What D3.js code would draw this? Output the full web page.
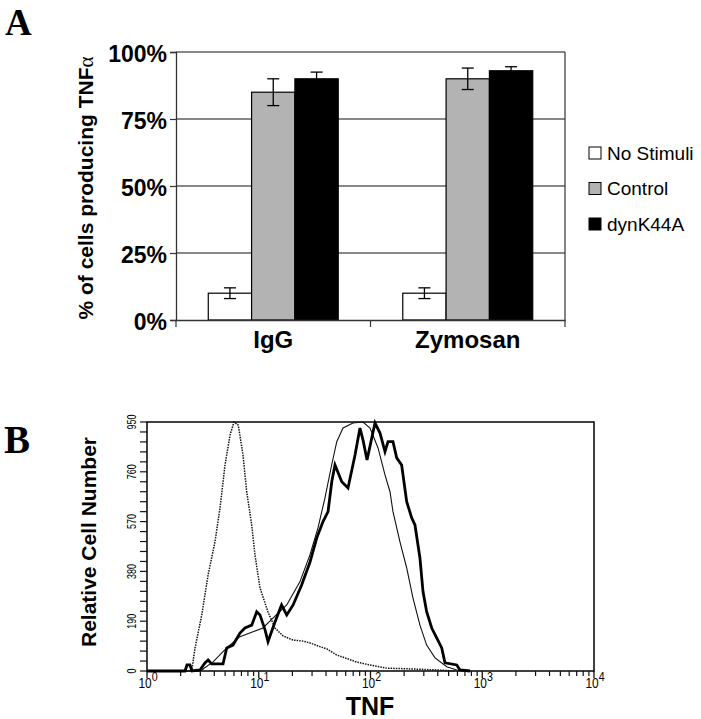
<!DOCTYPE html>
<html>
<head>
<meta charset="utf-8">
<script src="https://cdn.jsdelivr.net/npm/d3@7/dist/d3.min.js"></script>
<style>
  body { margin: 0; background: #fff; }
  svg { display: block; }
</style>
</head>
<body>
<svg id="chart" width="701" height="719"></svg>
<script>
// ---------- Panel A data ----------
const categories = ["IgG", "Zymosan"];
const seriesNames = ["No Stimuli", "Control", "dynK44A"];
const noStimuliPct = [10, 10];
const controlPct = [85, 90];
const dynK44APct = [90, 93];
const noStimuliErr = [2, 2];
const controlErr = [5, 4];
const dynK44AErr = [2.5, 1.5];
const yTicksA = [0, 25, 50, 75, 100];

// ---------- Panel B data (TNF fluorescence histograms) ----------
const noStimX = [1, 1.97, 2.51, 2.69, 3.09, 3.52, 4.06, 4.5, 4.99, 5.53, 6.01, 6.56, 7.23, 7.8, 8.65, 9.25, 10.26, 12.1, 13.97, 16.5, 20.3, 24.9, 28.8, 35.3, 40.8, 49.9, 59.2, 75.3, 99, 139.6, 225, 393, 570];
const noStimY = [0, 0, 0, 88, 214, 366, 493, 622, 786, 900, 950, 938, 824, 684, 557, 443, 317, 225, 164, 134, 118, 114, 107, 93, 84, 61, 50, 34, 23, 11, 8, 4, 0];

const controlX = [1, 2.86, 3.09, 3.9, 5.17, 6.79, 8.89, 10.9, 13.4, 17.8, 23.4, 28.7, 33.9, 39.1, 44.9, 49.9, 56.8, 69.7, 85.7, 99, 116.8, 134.8, 149.4, 158.9, 183.5, 210.8, 240, 277, 318, 378, 481, 591, 701];
const controlY = [0, 0, 4, 35, 88, 131, 150, 164, 202, 252, 341, 443, 546, 660, 786, 875, 927, 946, 950, 927, 851, 748, 684, 608, 493, 393, 278, 175, 99, 50, 16, 4, 0];

const dynX = [1, 2.19, 2.28, 2.42, 2.53, 2.98, 3.3, 3.52, 3.79, 4.79, 5.17, 5.88, 6.79, 7.53, 8.65, 9.59, 10.26, 11.4, 12.1, 14.0, 16.0, 17.8, 20.3, 24.2, 28.8, 33.0, 37.6, 41.7, 45.0, 48.1, 55.3, 62.9, 72.7, 80.5, 85.7, 93.1, 109.7, 121.6, 134.8, 143.5, 158.9, 171.5, 190, 210.8, 233.8, 250, 277, 295, 318, 353, 391, 434, 464, 591, 632, 777];
const dynY = [0, 0, 23, 23, 0, 4, 31, 42, 27, 27, 88, 99, 145, 164, 175, 226, 214, 156, 112, 188, 252, 214, 252, 328, 417, 507, 570, 608, 722, 786, 722, 698, 824, 927, 881, 805, 946, 908, 837, 875, 875, 813, 786, 646, 584, 557, 431, 303, 226, 164, 126, 88, 31, 23, 4, 0];

const yTicksB = [0, 190, 380, 570, 760, 950];
const xDecadesB = [1, 10, 100, 1000, 10000];

const svg = d3.select("#chart");
const sans = "'Liberation Sans', Arial, Helvetica, sans-serif";
const serif = "'Liberation Serif', 'Times New Roman', serif";

// Panel letters
svg.append("text").attr("x", 5).attr("y", 35).text("A")
  .attr("font-family", serif).attr("font-weight", "bold").attr("font-size", 37);
svg.append("text").attr("x", 4).attr("y", 453).text("B")
  .attr("font-family", serif).attr("font-weight", "bold").attr("font-size", 39);

// ================= Panel A =================
const gA = svg.append("g");
const x0 = d3.scaleBand().domain(categories).range([176, 565]).paddingInner(0).paddingOuter(0);
const x1 = d3.scaleBand().domain(seriesNames).range([0, x0.bandwidth()]).paddingInner(0).paddingOuter(0.745);
const yA = d3.scaleLinear().domain([0, 100]).range([320, 52]);
const fills = { "No Stimuli": "#ffffff", "Control": "#b3b3b3", "dynK44A": "#000000" };

// gridlines
gA.selectAll("line.grid").data(yTicksA.filter(d => d > 0)).enter().append("line")
  .attr("x1", 176).attr("x2", 565).attr("y1", d => yA(d)).attr("y2", d => yA(d))
  .attr("stroke", "#111").attr("stroke-width", 1.2);
// right frame
gA.append("line").attr("x1", 565).attr("x2", 565).attr("y1", yA(100)).attr("y2", yA(0))
  .attr("stroke", "#333").attr("stroke-width", 1.2);

// bars
const barData = [];
categories.forEach((c, i) => {
  barData.push({ cat: c, s: "No Stimuli", v: noStimuliPct[i], e: noStimuliErr[i] });
  barData.push({ cat: c, s: "Control", v: controlPct[i], e: controlErr[i] });
  barData.push({ cat: c, s: "dynK44A", v: dynK44APct[i], e: dynK44AErr[i] });
});
gA.selectAll("rect.bar").data(barData).enter().append("rect")
  .attr("x", d => x0(d.cat) + x1(d.s))
  .attr("width", x1.bandwidth())
  .attr("y", d => yA(d.v))
  .attr("height", d => yA(0) - yA(d.v))
  .attr("fill", d => fills[d.s])
  .attr("stroke", "#000").attr("stroke-width", 1.2);

// error bars
const eb = gA.selectAll("g.err").data(barData).enter().append("g")
  .attr("transform", d => `translate(${x0(d.cat) + x1(d.s) + x1.bandwidth() / 2},0)`);
eb.append("line").attr("x1", 0).attr("x2", 0)
  .attr("y1", d => yA(d.v + d.e)).attr("y2", d => yA(d.v - d.e))
  .attr("stroke", "#000").attr("stroke-width", 1.3);
eb.append("line").attr("x1", -6).attr("x2", 6)
  .attr("y1", d => yA(d.v + d.e)).attr("y2", d => yA(d.v + d.e))
  .attr("stroke", "#000").attr("stroke-width", 1.3);
eb.append("line").attr("x1", -6).attr("x2", 6)
  .attr("y1", d => yA(d.v - d.e)).attr("y2", d => yA(d.v - d.e))
  .attr("stroke", "#000").attr("stroke-width", 1.3);

// y axis
const yAxisA = d3.axisLeft(yA).tickValues(yTicksA).tickSize(6).tickFormat(d => d + "%");
const gyA = gA.append("g").attr("transform", "translate(176,0)").call(yAxisA);
gyA.select(".domain").attr("stroke", "#333").attr("stroke-width", 1.3);
gyA.selectAll(".tick line").attr("stroke", "#333").attr("stroke-width", 1.2);
gyA.selectAll(".tick text").attr("font-family", sans).attr("font-weight", "bold")
  .attr("font-size", 23).attr("fill", "#000").attr("x", -9).attr("dy", "0.4em");

// x axis
const xAxisA = d3.axisBottom(x0).tickSize(0).tickSizeOuter(0);
const gxA = gA.append("g").attr("transform", "translate(0,320)").call(xAxisA);
gxA.select(".domain").attr("stroke", "#333").attr("stroke-width", 1.3);
gxA.selectAll(".tick text").attr("font-family", sans).attr("font-weight", "bold")
  .attr("font-size", 24).attr("fill", "#000").attr("y", 11).attr("dy", "0.71em");
// category boundary ticks
const boundaries = [x0.range()[0], x0(categories[1]), x0.range()[1]];
gA.selectAll("line.ctick").data(boundaries).enter().append("line")
  .attr("x1", d => d).attr("x2", d => d).attr("y1", 320).attr("y2", 327)
  .attr("stroke", "#333").attr("stroke-width", 1.2);

// y label
const ylabA = gA.append("text").attr("transform", "translate(93,188) rotate(-90)")
  .attr("text-anchor", "middle").attr("font-family", sans).attr("font-weight", "bold")
  .attr("font-size", 21).attr("fill", "#000");
ylabA.append("tspan").text("% of cells producing TNF");
ylabA.append("tspan").text("α").attr("font-weight", "normal").attr("font-family", serif).attr("font-size", 21);

// legend
const leg = gA.selectAll("g.leg").data(seriesNames).enter().append("g")
  .attr("transform", (d, i) => `translate(589,${147 + i * 35.5})`);
leg.append("rect").attr("width", 12).attr("height", 12)
  .attr("fill", d => fills[d]).attr("stroke", "#000").attr("stroke-width", 1);
leg.append("text").attr("x", 18).attr("y", 12.5).text(d => d)
  .attr("font-family", sans).attr("font-size", 19).attr("fill", "#000");

// ================= Panel B =================
const gB = svg.append("g");
const xB = d3.scaleLog().domain([1, 10000]).range([147, 594]);
const yB = d3.scaleLinear().domain([0, 950]).range([671, 422]);

// frame
gB.append("rect").attr("x", xB(1)).attr("y", yB(950))
  .attr("width", xB(10000) - xB(1)).attr("height", yB(0) - yB(950))
  .attr("fill", "none").attr("stroke", "#111").attr("stroke-width", 1.6);

// y ticks (minor every 38)
const yMinor = d3.range(0, 951, 38);
gB.selectAll("line.yt").data(yMinor).enter().append("line")
  .attr("x1", xB(1) - 7).attr("x2", xB(1)).attr("y1", d => yB(d)).attr("y2", d => yB(d))
  .attr("stroke", "#111").attr("stroke-width", 1.2);
gB.selectAll("text.yl").data(yTicksB).enter().append("text")
  .attr("transform", d => `translate(136,${yB(d)}) rotate(-90) scale(0.72,1)`)
  .attr("text-anchor", "middle").text(d => d)
  .attr("font-family", sans).attr("font-size", 12.5).attr("fill", "#000");

// x ticks (log minor)
const xMinor = [];
for (let dcd = 1; dcd < 10000; dcd *= 10) for (let k = 2; k <= 9; k++) xMinor.push(dcd * k);
gB.selectAll("line.xm").data(xMinor).enter().append("line")
  .attr("x1", d => xB(d)).attr("x2", d => xB(d)).attr("y1", yB(0)).attr("y2", yB(0) + 5)
  .attr("stroke", "#111").attr("stroke-width", 1.2);
gB.selectAll("line.xM").data(xDecadesB).enter().append("line")
  .attr("x1", d => xB(d)).attr("x2", d => xB(d)).attr("y1", yB(0)).attr("y2", yB(0) + 7)
  .attr("stroke", "#111").attr("stroke-width", 1.3);
const xl = gB.selectAll("text.xl").data(xDecadesB).enter().append("text")
  .attr("transform", d => `translate(${xB(d) + 1},688) scale(0.85,1)`)
  .attr("text-anchor", "middle").attr("font-family", sans).attr("font-size", 14).attr("fill", "#000");
xl.append("tspan").text("10");
xl.append("tspan").text(d => Math.round(Math.log10(d))).attr("dy", -7).attr("font-size", 12.5);

// axis titles
gB.append("text").attr("x", 370).attr("y", 714.5).attr("text-anchor", "middle").text("TNF")
  .attr("font-family", sans).attr("font-weight", "bold").attr("font-size", 25);
gB.append("text").attr("transform", "translate(96,542) rotate(-90)").attr("text-anchor", "middle")
  .text("Relative Cell Number")
  .attr("font-family", sans).attr("font-weight", "bold").attr("font-size", 21);

// curves
const lineB = d3.line().x(d => xB(d[0])).y(d => yB(d[1]));
const zipXY = (xs, ys) => xs.map((v, i) => [v, ys[i]]);
gB.append("path").datum(zipXY(noStimX, noStimY)).attr("d", lineB)
  .attr("fill", "none").attr("stroke", "#111").attr("stroke-width", 1.5).attr("stroke-dasharray", "1.5,1.1");
gB.append("path").datum(zipXY(controlX, controlY)).attr("d", lineB)
  .attr("fill", "none").attr("stroke", "#111").attr("stroke-width", 1.1);
gB.append("path").datum(zipXY(dynX, dynY)).attr("d", lineB)
  .attr("fill", "none").attr("stroke", "#000").attr("stroke-width", 2.8).attr("stroke-linejoin", "miter");
</script>
</body>
</html>
